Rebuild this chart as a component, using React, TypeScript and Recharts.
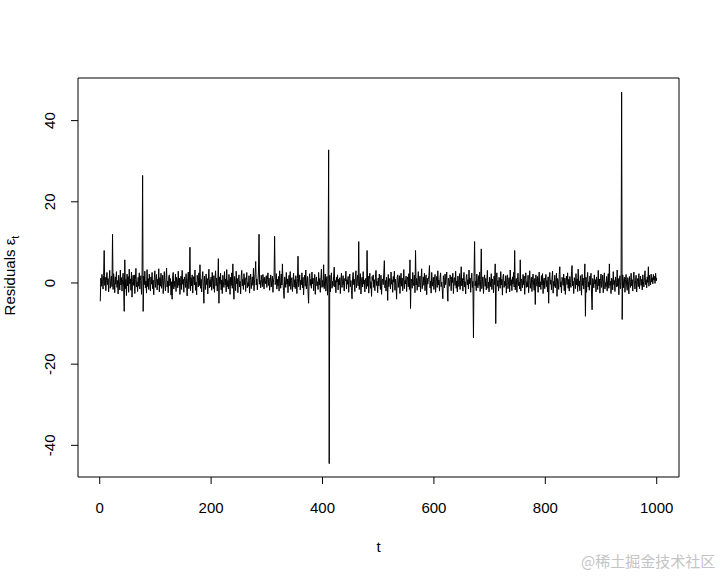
import React from 'react';
import { LineChart, Line, XAxis, YAxis, ReferenceArea, Label } from 'recharts';

// t axis ticks and residual axis ticks
const T_TICKS = [0, 200, 400, 600, 800, 1000];
const RESID_TICKS = [-40, -20, 0, 20, 40];

// residuals eps_t, t = 1..1000 (50 per row)
const residuals = [
  -4.5, 1.2, -0.8, 2.1, 0.3, -1.5, 1.8, 8.0, -0.6, 1.4, -1.9, 0.7, 2.6, -0.4, 1.1, -2.2, 0.9, 3.1, -1.3, 0.5, 1.7, -0.9, 12.0, -1.6, 2.3, 0.2, -2.4, 1.5, -0.3, 2.8, -1.1, 0.6, -2.7, 1.9, 0.4, -1.7, 3.2, -0.5, 1.3, -2.0, 0.8, 2.4, -1.2, -7.0, 5.7, -1.4, 0.9, -3.1, 2.2, -0.7,
  1.6, -2.3, 3.4, -0.2, 1.0, -1.8, 2.7, -3.5, 0.4, 1.9, -0.6, 2.0, -2.6, 0.8, 3.6, -1.0, 0.3, -2.1, 1.4, -0.8, 2.5, -1.5, 0.6, 1.8, -2.8, 0.9, 26.5, -7.0, 1.7, -0.4, 2.9, -1.2, 0.5, -2.5, 3.3, -0.9, 1.1, -1.6, 2.2, 0.1, -2.0, 1.5, -0.3, 2.6, -1.4, 0.7, -2.9, 1.2, 3.0, -1.1,
  0.4, 2.1, -1.7, 0.9, -0.5, 3.5, -2.2, 1.3, -0.8, 2.4, -1.3, 0.2, 1.9, -2.6, 0.7, 2.8, -0.4, -1.9, 1.0, 3.7, -1.0, 0.5, -2.4, 1.6, 2.0, -0.7, 1.1, -3.0, 0.3, -4.0, 1.8, 2.6, -1.5, 0.4, -0.9, 2.2, -2.1, 1.4, 0.8, -1.2, 2.9, -0.6, 1.2, -2.8, 0.1, 1.7, -1.6, 3.1, -0.3, 0.9,
  -2.3, 1.5, 0.6, -1.1, 2.3, -0.2, -3.2, 1.0, 2.7, -1.4, 0.5, 8.8, -1.9, 1.3, -0.7, 2.0, -2.5, 0.8, 1.6, -0.5, 3.2, -1.8, 0.2, -2.9, 1.9, 0.7, -1.0, 2.5, -0.6, 4.5, -1.3, 0.9, -2.2, 1.4, 2.8, -0.8, -5.0, 1.7, 0.3, -1.6, 2.2, -0.4, 1.1, -2.7, 0.6, 3.4, -1.2, 0.8, -0.9, 1.5,
  -1.8, 2.6, 0.1, -1.4, 1.8, -2.3, 0.9, 3.0, -0.7, 1.2, -2.0, 0.4, 6.0, -5.0, 1.5, -0.3, 2.4, -1.7, 0.7, -2.6, 1.9, 0.3, -1.1, 2.8, -0.5, 1.0, -2.2, 3.3, -0.9, 0.6, -1.5, 2.1, 0.2, -2.8, 1.4, -0.6, 2.5, -1.3, 4.7, -0.8, -4.0, 1.6, 0.5, -1.9, 2.9, -0.2, 1.1, -2.4, 0.8, 2.0,
  -1.0, 0.4, -2.7, 1.7, 3.1, -0.7, 0.9, -1.6, 2.3, -0.4, 1.3, -2.1, 0.6, 2.6, -1.2, 0.1, -0.8, 1.8, -2.5, 0.7, 2.2, -1.4, 0.3, 1.5, -0.6, 3.6, -1.9, 0.8, 2.4, 5.3, -0.5, 1.0, -1.7, 0.4, 2.7, 12.0, -0.3, 0.6, -1.2, 1.9, 0.2, -0.9, 2.1, 0.7, -1.5, 1.4, 0.5, -0.2, 1.8, -1.1,
  0.9, 2.5, -0.6, 1.2, -1.8, 0.3, 2.0, -1.0, 0.6, 1.7, -2.3, 0.8, 1.4, 11.5, -0.4, 0.2, 2.3, -1.5, 0.9, -0.7, 1.6, -2.0, 3.0, 0.4, -1.3, 2.2, -0.5, 4.7, 0.1, -1.9, -3.8, 1.5, 0.7, -1.1, 2.6, -0.3, 1.0, -2.4, 0.5, 1.9, -0.8, 2.8, -1.6, 0.6, 1.3, -2.1, 0.2, 2.4, -1.0, 0.8,
  -1.4, 1.8, 0.3, -2.6, 1.1, 6.6, -0.9, 0.5, 2.0, -1.7, 0.7, -0.4, 2.5, -1.2, 1.4, -2.9, 0.6, 1.9, -0.8, 3.2, -1.5, 0.2, 1.6, -2.2, -5.0, 1.0, 2.3, -0.6, 0.9, -1.3, 2.7, -0.2, 1.2, -1.9, 0.4, 2.1, -2.8, 0.8, 1.5, -0.7, 0.3, -1.6, 2.6, -0.5, 1.1, -2.3, 0.9, 3.4, -1.1, 0.6,
  -0.9, 4.5, -1.4, 0.7, 2.2, -2.0, 0.5, 1.6, -3.0, 1.0, 32.8, -44.5, 1.9, -2.2, 0.8, 2.5, -1.3, 0.4, -0.8, 1.7, 3.9, -1.0, 0.6, -2.4, 1.4, 0.2, 2.0, -1.7, 0.9, -0.5, 1.3, -2.6, 0.7, 2.4, -1.1, 0.3, 1.8, -0.6, -2.0, 1.1, 0.5, 2.9, -1.5, 0.8, -0.3, 1.6, -2.3, 1.0, 2.2, -0.9,
  0.6, -1.8, -3.9, 1.2, 2.6, -0.4, 0.9, -2.1, 1.5, 3.0, -1.2, 0.4, 1.9, -0.7, 10.2, -1.6, 0.8, 2.3, -2.7, 0.5, 1.4, -1.0, 2.8, -0.3, 0.7, -2.2, 1.1, 0.2, -1.4, 8.0, -0.8, 1.7, -2.5, 0.9, 2.4, -1.3, 0.3, -3.3, 1.6, 0.6, 2.0, -1.1, 0.8, -1.9, 1.3, 3.1, -0.6, 0.4, -2.4, 1.2,
  -0.7, 2.2, 0.1, -1.6, 1.9, -2.8, 0.7, 1.0, -0.4, 2.5, 5.5, -1.2, 0.6, -2.0, 1.4, 0.3, -4.3, 2.1, -0.9, 1.1, 0.4, -1.5, 2.7, -0.3, 0.8, -2.3, 1.6, 0.2, 2.9, -1.8, 0.9, -0.6, -4.0, 1.3, 2.0, -1.1, 0.5, 1.8, -2.6, 0.7, 2.4, -0.8, 1.2, -1.9, 0.3, 3.3, -1.4, 0.6, -0.2, 1.7,
  -2.1, 0.8, 1.5, -0.9, 2.3, -1.6, 5.7, -6.3, 1.0, 0.4, -1.3, 2.6, 0.2, -0.7, 1.9, -2.4, 8.0, -0.5, 1.1, -1.8, 0.6, 2.8, -1.0, 0.3, 1.7, -2.2, 0.9, 3.5, -1.4, 0.1, 1.5, -0.6, 2.4, -1.9, 0.7, 2.0, -2.9, 1.2, -0.3, 0.8, 1.9, 4.3, -1.2, 0.5, -2.5, 2.6, 0.3, -0.8, 1.4, -1.6,
  0.9, 2.1, -2.3, 0.4, 1.6, -1.1, 3.0, -0.5, 0.7, -2.0, 1.3, 2.5, -0.9, 0.2, -1.7, -3.9, 1.8, 0.6, -1.2, 2.2, -0.4, 1.0, 2.7, -1.5, -4.5, 1.2, 0.3, -0.8, 2.0, 0.9, -1.9, 1.5, 0.1, 2.4, -2.6, 0.8, 1.3, -0.6, 2.9, -1.3, 0.5, -2.2, 1.7, 0.2, -0.9, 2.3, -1.6, 0.7, 4.0, -0.7,
  1.1, -2.0, 0.6, 2.6, -1.0, 0.3, -2.7, 1.4, 2.1, -0.5, 0.8, -1.5, 3.2, -0.2, 1.2, -2.3, 0.9, 2.4, -1.1, 0.4, -13.5, 1.6, 10.2, -0.7, 0.5, -1.9, 2.2, 0.1, -1.2, 1.8, -0.6, 2.7, -2.1, 0.9, 8.4, -1.4, 0.3, 1.5, -2.6, 0.7, 2.0, -0.8, 1.1, -1.7, 0.6, 3.1, -1.3, 0.2, -2.2, 1.4,
  0.5, -0.9, 2.3, -1.6, 1.0, 0.3, -2.4, 1.7, -0.4, 4.7, -10.0, 1.2, 2.5, -0.8, 0.6, -2.0, 1.4, 0.1, -1.3, 2.8, -0.5, 0.9, -3.0, 1.6, 2.2, -1.1, 0.4, -0.7, 1.8, -2.5, 0.7, 2.0, -1.4, 0.3, 1.3, -2.2, 3.2, -0.6, 0.8, -1.9, 1.5, -0.3, 2.6, -1.0, 8.0, -1.7, 0.5, 1.1, -2.3, 0.9,
  2.4, -0.7, 0.2, -1.5, 5.7, -2.0, 1.0, 0.6, -1.2, 2.1, -0.4, 1.7, -2.8, 0.8, 2.5, -1.1, 0.3, -0.9, 1.9, -2.4, 0.6, 3.0, -1.3, 0.1, 1.4, -2.1, 0.9, 2.2, -0.6, -1.8, 1.1, -5.3, 2.0, 0.4, -0.8, 1.6, -2.3, 0.7, 2.7, -1.0, 0.3, -1.6, 1.8, -0.5, 2.3, -2.6, 0.8, 1.2, -1.4, 0.5,
  2.1, -0.9, 0.6, -2.2, 1.5, -5.0, 1.0, 2.6, -0.3, 0.7, -1.7, 1.3, 2.9, -2.5, 0.4, -0.8, 1.9, -1.2, 0.2, 2.4, -3.3, 1.1, 0.5, -1.6, 2.0, 4.0, -1.0, 0.3, -2.4, 1.4, 0.8, -0.6, 2.2, -1.9, 1.2, -2.8, 0.6, 1.7, -0.4, 2.5, -1.3, 0.9, -2.0, 1.6, 0.1, -1.1, 2.8, 4.3, -0.7, 0.4,
  -2.6, 1.3, 0.7, -1.4, 2.3, -0.5, 1.0, -2.1, 3.4, -0.8, 0.5, -1.9, 1.8, 0.2, -3.0, 2.1, -0.6, 1.2, -1.5, 0.6, 4.7, -8.2, 1.4, -2.3, 0.9, 2.6, -1.0, 0.3, -1.8, 1.7, -0.4, 2.4, -2.7, -6.6, 1.1, 0.5, -1.2, 2.0, -0.3, 0.8, -2.2, 1.5, 0.4, -1.6, 3.1, -0.7, 1.0, -2.5, 0.6, 2.2,
  -1.1, 0.3, 1.9, -2.4, 0.8, 2.5, -1.5, 0.1, -0.9, 1.6, -2.0, 0.7, 2.3, -1.3, 4.7, -0.6, 0.4, -2.6, 1.2, 0.9, -1.7, 2.8, -0.4, 0.6, -2.1, 1.5, 0.2, -1.0, 3.2, -0.8, 1.1, -2.9, 0.5, 1.8, -1.4, 0.3, 47.0, -9.0, 2.0, -1.2, 0.7, 1.4, -2.3, 0.9, 2.1, -0.5, -1.8, 1.3, 0.4, -2.7,
  1.6, 0.2, -1.1, 2.4, -0.7, 0.8, -2.0, 1.2, 2.7, -0.3, -1.5, 0.6, 1.9, -2.2, 0.4, 1.1, -0.9, 2.3, -1.4, 0.5, 1.7, -0.6, 0.9, -1.7, 2.0, 0.3, -1.0, 1.4, 3.0, -0.4, 0.8, -1.2, 1.5, 0.1, 4.0, -0.8, 1.9, 0.6, -0.5, 2.2, 0.3, 1.3, -0.2, 2.1, 0.7, 1.6, -0.1, 2.4, 0.5, 1.2,
];

const data = residuals.map((r, i) => ({ t: i + 1, r }));

const FONT = '"Liberation Sans", Arial, Helvetica, sans-serif';

// R draws y tick labels parallel to the axis
const RotatedTick = (props: any) => {
  const { x, y, payload } = props;
  return (
    <text
      x={x}
      y={y}
      transform={`rotate(-90 ${x} ${y})`}
      textAnchor="middle"
      fontSize={15}
      fontFamily={FONT}
      fill="#000"
    >
      {payload.value}
    </text>
  );
};

export default function App() {
  return (
    <div style={{ position: 'absolute', left: 0, top: 0, width: 720, height: 576, background: '#fff' }}>
      <LineChart
        width={720}
        height={576}
        data={data}
        margin={{ top: 78, right: 41, bottom: 0, left: 0 }}
      >
        <XAxis
          dataKey="t"
          type="number"
          domain={[-39, 1040]}
          ticks={T_TICKS}
          allowDataOverflow
          height={99}
          axisLine={false}
          tickSize={7}
          tickMargin={18}
          tickLine={{ stroke: '#000' }}
          tick={{ fontSize: 15, fontFamily: FONT, fill: '#000' }}
        >
          <Label
            content={(p: any) => {
              const vb = p.viewBox || { x: 78, y: 477, width: 601, height: 99 };
              return (
                <text x={vb.x + vb.width / 2} y={vb.y + 75} textAnchor="middle" fontSize={15} fontFamily={FONT} fill="#000">
                  t
                </text>
              );
            }}
          />
        </XAxis>
        <YAxis
          type="number"
          domain={[-47.8, 50.5]}
          ticks={RESID_TICKS}
          allowDataOverflow
          width={78}
          axisLine={false}
          tickSize={7}
          tickMargin={16}
          tickLine={{ stroke: '#000' }}
          tick={<RotatedTick />}
        >
          <Label
            content={(p: any) => {
              const vb = p.viewBox || { x: 0, y: 78, width: 78, height: 399 };
              const cy = vb.y + vb.height / 2 - 2;
              return (
                <text
                  x={15}
                  y={cy}
                  transform={`rotate(-90 15 ${cy})`}
                  textAnchor="middle"
                  fontSize={15}
                  fontFamily={FONT}
                  fill="#000"
                >
                  Residuals ε
                  <tspan fontSize={11} dy={4}>t</tspan>
                </text>
              );
            }}
          />
        </YAxis>
        <ReferenceArea x1={-39} x2={1040} y1={-47.8} y2={50.5} fill="none" stroke="#000" strokeWidth={1} />
        <Line
          type="linear"
          dataKey="r"
          stroke="#000"
          strokeWidth={1}
          dot={false}
          activeDot={false}
          isAnimationActive={false}
        />
      </LineChart>
      <div
        style={{
          position: 'absolute',
          left: 581,
          top: 552,
          fontSize: 15,
          color: '#c4c4c4',
          fontFamily: '"Noto Sans CJK SC", sans-serif',
          whiteSpace: 'nowrap',
          lineHeight: '18px',
        }}
      >
        @稀土掘金技术社区
      </div>
    </div>
  );
}
